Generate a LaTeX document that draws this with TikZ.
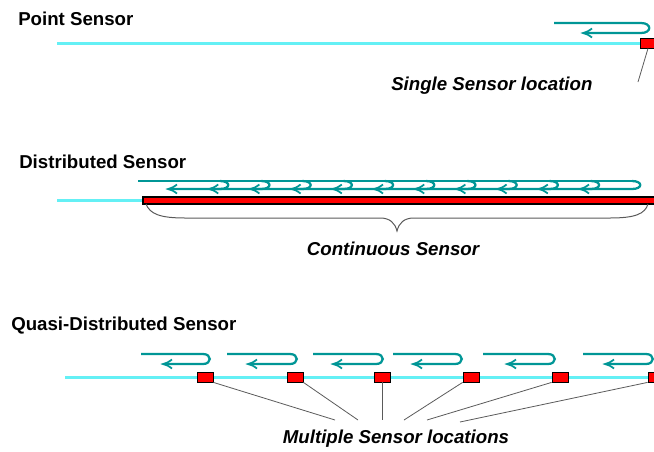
\documentclass[tikz,border=0pt]{standalone}
\usepackage{fontspec}
\setmainfont{Liberation Sans}
\usepackage{tikz}
\usepackage{xcolor}

\definecolor{fibercyan}{RGB}{100,240,245}
\definecolor{lightteal}{RGB}{0,150,150}
\definecolor{leadgray}{RGB}{90,90,90}

\tikzset{
  fiber/.style={color=fibercyan, line width=2.25},
  sensorbox/.style={draw=black, fill=red, line width=0.6, inner sep=0pt, minimum width=12pt, minimum height=7.5pt},
  heading/.style={anchor=base west, inner sep=0.75pt, font=\fontsize{14}{16}\selectfont\bfseries},
  caption/.style={anchor=base, inner sep=0.75pt, font=\fontsize{14}{16}\selectfont\bfseries\itshape},
  pulse/.style={color=lightteal, line width=1.7},
  leader/.style={color=leadgray, line width=0.6},
}

\begin{document}
\begin{tikzpicture}[x=0.75pt,y=0.75pt,yscale=-1,xscale=1]
\clip (0,0) rectangle (654,451);

% point sensor
\node [heading] (ptitle) at (17,25) {Point Sensor};
\node [sensorbox] (psens) at (648,43) {};
\draw [fiber] (57,43) -- (psens.west) ;
\draw [pulse] (554,23) -- (641,23) .. controls (652,23) and (652,33) .. (641,33) -- (585,33) ;
\draw [shift={(583,33)}, rotate = 0] [color=lightteal][line width=1.3] (9,-4.5) .. controls (5.5,-1.9) and (2.8,-0.4) .. (0,0) .. controls (2.8,0.4) and (5.5,1.9) .. (9,4.5) ;
\coordinate (pend) at (638,82);
\draw [leader] (psens.south) -- (pend) ;
\node [caption, anchor=base west] (plabel) at (390,90) {Single Sensor location};

% distributed sensor
\node [heading] (dtitle) at (18,168) {Distributed Sensor};
\draw [fiber] (57,200) -- (143,200) ;
\draw [fill=red, line width=0.9] (143,197) -- (660,197) -- (660,204) -- (143,204) -- cycle ;
\draw [pulse] (138,181) -- (634,181) ;
\foreach \k in {0,...,10} {
  \pgfmathsetmacro\b{228+41.2*\k}
  \draw [pulse] (\b-8,181) .. controls (\b+3,181) and (\b+3,189) .. (\b-8,189) -- (\b-58,189) ;
  \draw [shift={(\b-60,189)}, rotate = 0] [color=lightteal][line width=1.3] (9,-4.5) .. controls (5.5,-1.9) and (2.8,-0.4) .. (0,0) .. controls (2.8,0.4) and (5.5,1.9) .. (9,4.5) ;
}
\draw [leader, line width=0.75] (146,204) .. controls (150,214) and (160,218) .. (185,218) -- (380,218) .. controls (390,218) and (395,223) .. (397,231) .. controls (399,223) and (404,218) .. (414,218) -- (610,218) .. controls (635,218) and (645,214) .. (648,204) ;
\node [caption] (dlabel) at (393,255) {Continuous Sensor};

% quasi-distributed sensor
\node [heading] (qtitle) at (10,330) {Quasi-Distributed Sensor};
\draw [fiber] (65,377) -- (660,377) ;
\foreach \x/\n in {205/1,295/2,382/3,471/4,560/5,656/6}
  \node [sensorbox] (q\n) at (\x,377) {};
\foreach \s/\b/\a in {141/210/163, 227/297/248, 313/383/333, 393/462/413, 483/555/507, 583/653/605} {
  \draw [pulse] (\s,354) -- (\b-7,354) .. controls (\b+2,354) and (\b+2,364) .. (\b-7,364) -- (\a+2,364) ;
  \draw [shift={(\a,364)}, rotate = 0] [color=lightteal][line width=1.3] (9,-4.5) .. controls (5.5,-1.9) and (2.8,-0.4) .. (0,0) .. controls (2.8,0.4) and (5.5,1.9) .. (9,4.5) ;
}
\coordinate (m1) at (335,420);
\coordinate (m2) at (358,420);
\coordinate (m3) at (382,420);
\coordinate (m4) at (404,420);
\coordinate (m5) at (427,420);
\coordinate (m6) at (460,422);
\draw [leader] (q1.south east) -- (m1) ;
\draw [leader] (q2.south east) -- (m2) ;
\draw [leader] (q3.south) -- (m3) ;
\draw [leader] (q4.south west) -- (m4) ;
\draw [leader] (q5.south west) -- (m5) ;
\draw [leader] (q6.south west) -- (m6) ;
\node [caption] (qlabel) at (396,443) {Multiple Sensor locations};

\end{tikzpicture}
\end{document}
